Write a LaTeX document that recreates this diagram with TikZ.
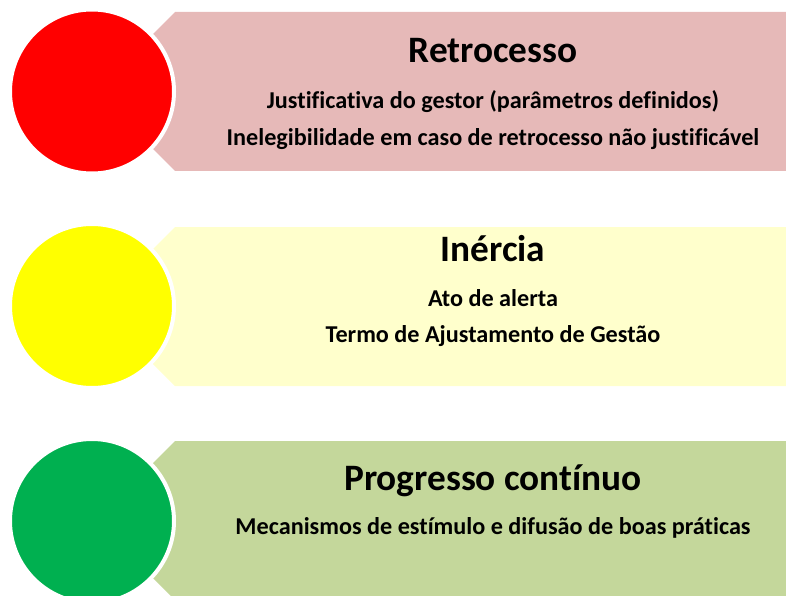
\documentclass[tikz,border=0pt]{standalone}
\usepackage{fontspec}
\setmainfont{Carlito}[Ligatures={NoCommon}]
\definecolor{cred}{HTML}{FF0000}
\definecolor{cyel}{HTML}{FFFF00}
\definecolor{cgrn}{HTML}{00B050}
\definecolor{bred}{HTML}{E6B9B8}
\definecolor{byel}{HTML}{FFFFCC}
\definecolor{bgrn}{HTML}{C4D79B}
\begin{document}
\begin{tikzpicture}[x=1pt,y=-1pt,
  lamp/.style={circle,draw=white,line width=4pt,minimum size=164pt,inner sep=0pt},
  ttl/.style={anchor=base,inner sep=0pt,font=\fontsize{37.3}{42}\selectfont\bfseries},
  sub/.style={anchor=base,inner sep=0pt,font=\fontsize{24.2}{28}\selectfont\bfseries}]
\useasboundingbox (0,0) rectangle (786,596);
\begin{scope}
\clip (0,0) rectangle (786,596);
% banners
\fill[bred] (175,12) -- (790,12) -- (790,171) -- (175,171) -- (95.5,91.5) -- cycle;
\fill[byel] (175,227) -- (790,227) -- (790,386) -- (175,386) -- (95.5,306.5) -- cycle;
\fill[bgrn] (175,441) -- (790,441) -- (790,600) -- (175,600) -- (95.5,520.5) -- cycle;
% lamps
\node[lamp,fill=cred] (r) at (92,91.5) {};
\node[lamp,fill=cyel] (y) at (92,306) {};
\node[lamp,fill=cgrn] (g) at (92,521) {};
\end{scope}
% texts
\node[ttl] (t1) at (493,63) {Retrocesso};
\node[sub] (s11) at (493,109) {Justificativa do gestor (parâmetros definidos)};
\node[sub] (s12) at (493,146) {Inelegibilidade em caso de retrocesso não justificável};
\node[ttl] (t2) at (493,261) {Inércia};
\node[sub] (s21) at (493,306.5) {Ato de alerta};
\node[sub] (s22) at (493,342.5) {Termo de Ajustamento de Gestão};
\node[ttl] (t3) at (493,490) {Progresso contínuo};
\node[sub] (s31) at (493,534) {Mecanismos de estímulo e difusão de boas práticas};
\end{tikzpicture}
\end{document}
